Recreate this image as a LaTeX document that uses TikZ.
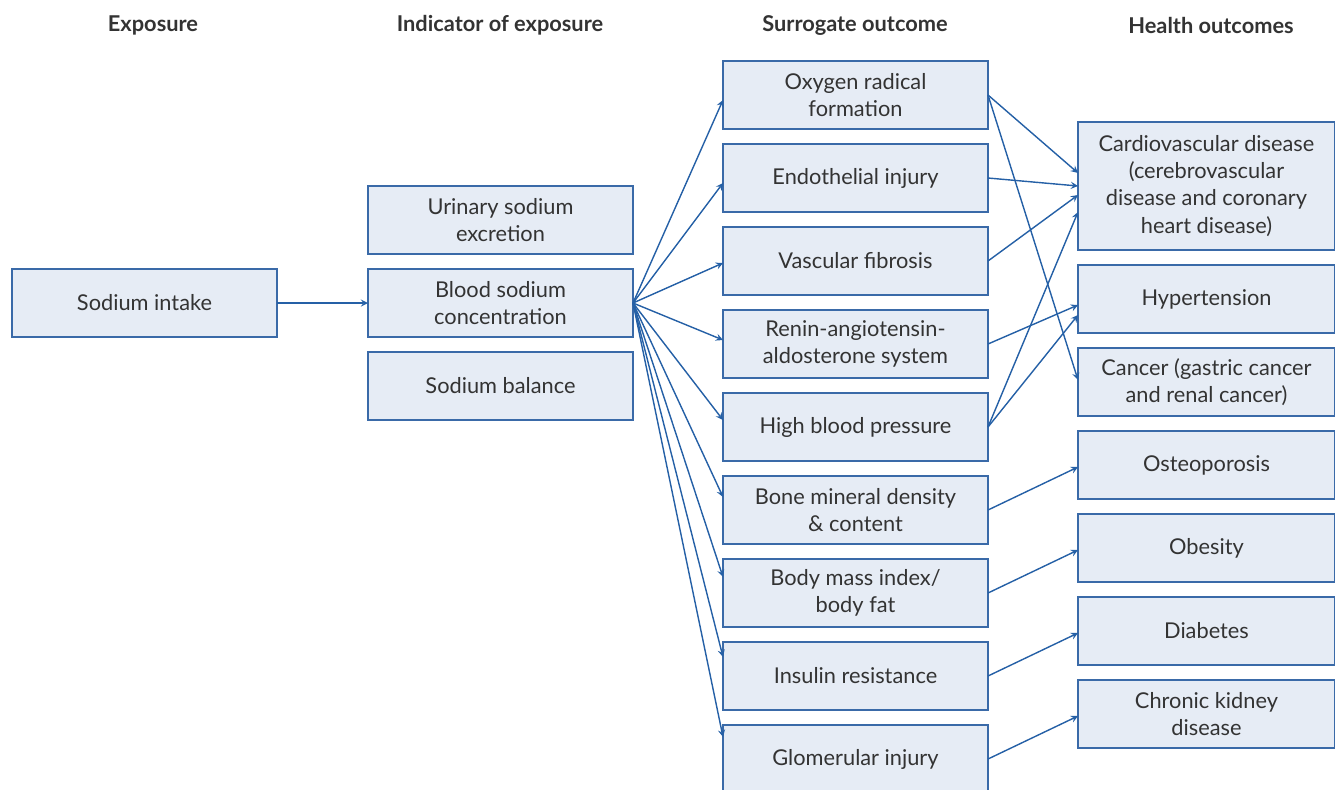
\documentclass[tikz,border=0pt]{standalone}
\usepackage{fontspec}
\setmainfont{Lato}
\usepackage{xcolor}
\usepackage{tikz}
\usetikzlibrary{shapes,arrows,positioning,fit}

\definecolor{boxfill}{HTML}{E6ECF5}
\definecolor{boxline}{HTML}{3A6AA8}
\definecolor{arrowblue}{HTML}{2560A6}
\definecolor{txtgray}{HTML}{333333}

\begin{document}
\begin{tikzpicture}[
    node distance=0.3cm,
    box/.style={rectangle, draw=boxline, fill=boxfill, line width=0.7pt, minimum width=5.3cm, minimum height=1.36cm, align=center, text=txtgray, font=\fontsize{12.4}{15.4}\selectfont, inner sep=0pt, outer sep=0pt},
    outbox/.style={box, minimum width=5.14cm},
    head/.style={text=txtgray, font=\fontsize{12.4}{14}\selectfont\bfseries},
    arrow/.style={draw=arrowblue, fill=arrowblue, line width=0.8pt, ->, >=stealth}
]
    \useasboundingbox (0,0) rectangle (26.7,-15.78);

    % column headers
    \node[head] (hexp) at (3.06,-0.5) {Exposure};
    \node[head] (hind) at (10.0,-0.5) {Indicator of exposure};
    \node[head] (hsur) at (17.1,-0.5) {Surrogate outcome};
    \node[head] (hout) at (24.22,-0.5) {Health outcomes};

    % exposure and indicators
    \node[box] (intake) at (2.89,-6.06) {Sodium intake};
    \node[box, right=1.82cm of intake] (blood) {Blood sodium\\concentration};
    \node[box, above=of blood] (urine) {Urinary sodium\\excretion};
    \node[box, below=of blood] (balance) {Sodium balance};

    % surrogate outcomes
    \node[box] (oxygen) at (17.11,-1.9) {Oxygen radical\\formation};
    \node[box, below=of oxygen] (endo) {Endothelial injury};
    \node[box, below=of endo] (fibro) {Vascular fibrosis};
    \node[box, below=of fibro] (raas) {Renin-angiotensin-\\aldosterone system};
    \node[box, below=of raas] (hbp) {High blood pressure};
    \node[box, below=of hbp] (bone) {Bone mineral density\\\& content};
    \node[box, below=of bone] (bmi) {Body mass index/\\body fat};
    \node[box, below=of bmi] (insulin) {Insulin resistance};
    \node[box, below=of insulin] (glom) {Glomerular injury};

    % health outcomes
    \node[outbox, minimum height=2.56cm, anchor=north west] (cvd) at (21.56,-2.44) {Cardiovascular disease\\(cerebrovascular\\disease and coronary\\heart disease)};
    \node[outbox, below=of cvd] (hyper) {Hypertension};
    \node[outbox, below=of hyper] (cancer) {Cancer (gastric cancer\\and renal cancer)};
    \node[outbox, below=of cancer] (osteo) {Osteoporosis};
    \node[outbox, below=of osteo] (obese) {Obesity};
    \node[outbox, below=of obese] (diab) {Diabetes};
    \node[outbox, below=of diab] (ckd) {Chronic kidney\\disease};

    \draw[arrow] (intake) -- (blood);

    \draw[arrow] (blood.east) -- ([yshift=-0.1cm]oxygen.west);
    \draw[arrow] (blood.east) -- ([yshift=-0.1cm]endo.west);
    \draw[arrow] (blood.east) -- ([yshift=-0.04cm]fibro.west);
    \draw[arrow] (blood.east) -- ([yshift=0.08cm]raas.west);
    \draw[arrow] (blood.east) -- ([yshift=0.14cm]hbp.west);
    \draw[arrow] (blood.east) -- ([yshift=0.26cm]bone.west);
    \draw[arrow] (blood.east) -- ([yshift=0.32cm]bmi.west);
    \draw[arrow] (blood.east) -- ([yshift=0.38cm]insulin.west);
    \draw[arrow] (blood.east) -- ([yshift=0.44cm]glom.west);

    \draw[arrow] (oxygen.east) -- ([yshift=0.26cm]cvd.west);
    \draw[arrow] (oxygen.east) -- ([yshift=0.04cm]cancer.west);
    \draw[arrow] (endo.east) -- (cvd.west);
    \draw[arrow] (fibro.east) -- ([yshift=-0.18cm]cvd.west);
    \draw[arrow] (hbp.east) -- ([yshift=-0.52cm]cvd.west);
    \draw[arrow] (raas.east) -- ([yshift=-0.12cm]hyper.west);
    \draw[arrow] (hbp.east) -- ([yshift=-0.32cm]hyper.west);
    \draw[arrow] (bone.east) -- ([yshift=-0.04cm]osteo.west);
    \draw[arrow] (bmi.east) -- ([yshift=-0.04cm]obese.west);
    \draw[arrow] (insulin.east) -- ([yshift=-0.04cm]diab.west);
    \draw[arrow] (glom.east) -- ([yshift=-0.04cm]ckd.west);
\end{tikzpicture}
\end{document}
